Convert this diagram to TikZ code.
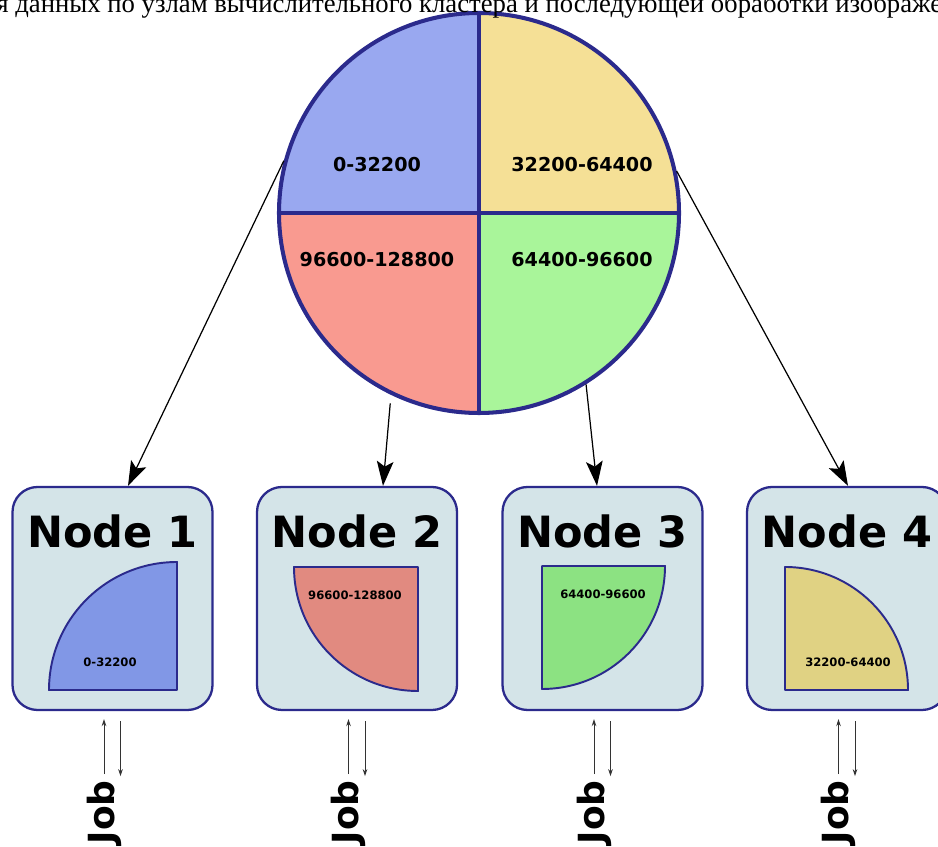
\documentclass[tikz,border=0pt]{standalone}
\usepackage{fontspec}
\setmainfont{Liberation Serif}
\setsansfont{DejaVu Sans}
\usetikzlibrary{arrows.meta,calc}

\definecolor{navy}{RGB}{43,42,140}
\definecolor{boxfill}{RGB}{212,228,232}
\definecolor{pieblue}{RGB}{153,168,240}
\definecolor{pieyel}{RGB}{245,224,150}
\definecolor{piered}{RGB}{249,154,144}
\definecolor{piegrn}{RGB}{169,245,154}
\definecolor{qblue}{RGB}{129,151,230}
\definecolor{qyel}{RGB}{224,210,131}
\definecolor{qred}{RGB}{225,138,128}
\definecolor{qgrn}{RGB}{140,226,130}

\tikzset{
  pie/.style={circle, draw=navy, line width=2.3pt, minimum size=8cm, inner sep=0pt},
  pieline/.style={draw=navy, line width=2.3pt},
  pietxt/.style={font=\sffamily\bfseries\fontsize{10.9}{13}\selectfont},
  srv/.style={draw=navy, fill=boxfill, line width=1.3pt, rounded corners=5mm,
    minimum width=4cm, minimum height=4.46cm},
  srvttl/.style={anchor=base, inner sep=0pt, font=\sffamily\bfseries\fontsize{24.5}{28}\selectfont},
  quarter/.style={draw=navy, line width=1.1pt, line join=round},
  qtxt/.style={font=\sffamily\bfseries\fontsize{6.6}{8}\selectfont},
  jobtxt/.style={rotate=90, anchor=base east, inner sep=0pt,
    font=\sffamily\bfseries\fontsize{20.5}{24}\selectfont},
  split/.style={->, line width=0.7pt},
  jobarr/.style={-{Stealth[length=4pt,width=2.6pt]}, line width=0.55pt, black!80},
}

\begin{document}
\begin{tikzpicture}[x=0.2mm, y=0.2mm, >={Stealth[length=14pt,width=9.5pt,inset=3pt]}]
  \useasboundingbox (0,0) rectangle (938,847);
  \clip (0,0) rectangle (938,847);

  % data split into four parts
  \fill[pieblue] (479,634) -- (279,634) arc[start angle=180, end angle=90, radius=200] -- cycle;
  \fill[pieyel] (479,634) -- (479,834) arc[start angle=90, end angle=0, radius=200] -- cycle;
  \fill[piegrn] (479,634) -- (679,634) arc[start angle=0, end angle=-90, radius=200] -- cycle;
  \fill[piered] (479,634) -- (479,434) arc[start angle=270, end angle=180, radius=200] -- cycle;
  \node[pie] (pie) at (479,634) {};
  \draw[pieline] (pie.north) -- (pie.south) (pie.west) -- (pie.east);
  \node[pietxt] (p1) at (377,682) {0-32200};
  \node[pietxt] (p2) at (582,682) {32200-64400};
  \node[pietxt] (p3) at (377,587) {96600-128800};
  \node[pietxt] (p4) at (582,587) {64400-96600};

  % cluster nodes
  \foreach \i/\cx in {1/112.5, 2/357, 3/602.5, 4/847} {
    \node[srv] (n\i) at (\cx,248.5) {};
    \node[srvttl] (t\i) at (\cx,299) {Node \i};
    \node[jobtxt] (j\i) at (\cx+1.5,67) {Job};
    \draw[jobarr] ($(n\i.south)+(-8.5,-63)$) -- ($(n\i.south)+(-8.5,-8)$);
    \draw[jobarr] ($(n\i.south)+(8,-10)$) -- ($(n\i.south)+(8,-65)$);
  }

  \draw[quarter, fill=qblue] (177,157) -- (49,157) arc[start angle=180, end angle=90, radius=128] -- cycle;
  \draw[quarter, fill=qred] (418,280) -- (294,280) arc[start angle=180, end angle=270, radius=124] -- cycle;
  \draw[quarter, fill=qgrn] (542,281) -- (665,281) arc[start angle=0, end angle=-90, radius=123] -- cycle;
  \draw[quarter, fill=qyel] (785,157) -- (908,157) arc[start angle=0, end angle=90, radius=123] -- cycle;
  \node[qtxt] (q1) at (110,185) {0-32200};
  \node[qtxt] (q2) at (355,252) {96600-128800};
  \node[qtxt] (q3) at (603,253) {64400-96600};
  \node[qtxt] (q4) at (848,185) {32200-64400};

  \draw[split] (pie.165) -- ($(n1.north)+(15.5,0)$);
  \draw[split] ([shift={(245:8)}]pie.245) -- ($(n2.north)+(26,0)$);
  \draw[split] (pie.302) -- ($(n3.north)+(-5.5,0)$);
  \draw[split] (pie.12.6) -- ($(n4.north)+(1,0)$);

  \node[anchor=base west, inner sep=0pt, font=\fontsize{15.2}{18}\selectfont] (title) at (15,834)
    {\llap{распределения }данных по узлам вычислительного кластера и последующей обработки изображений};
\end{tikzpicture}
\end{document}
